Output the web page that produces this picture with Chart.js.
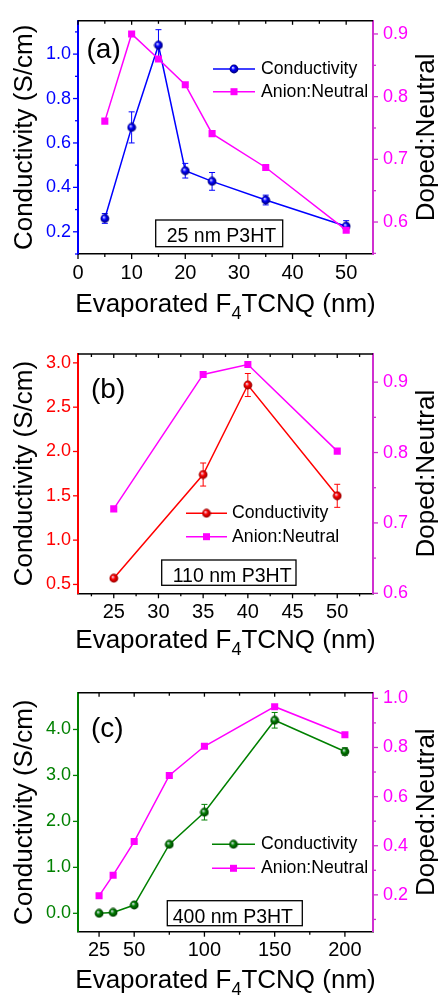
<!DOCTYPE html>
<html>
<head>
<meta charset="utf-8">
<script src="https://cdn.jsdelivr.net/npm/chart.js@4.4.1/dist/chart.umd.min.js"></script>
<style>
  html, body { margin: 0; padding: 0; background: #fff; }
  #wrap { position: relative; width: 438px; height: 995px; }
  canvas { position: absolute; left: 0; }
</style>
</head>
<body>
<div id="wrap">
  <canvas id="chartA" width="438" height="330" style="top:0px"></canvas>
  <canvas id="chartB" width="438" height="330" style="top:330px"></canvas>
  <canvas id="chartC" width="438" height="335" style="top:660px"></canvas>
</div>
<script>
// ---- panel (a): 25 nm P3HT ----
const xA = [5, 10, 15, 20, 25, 35, 50];
const condA = [0.26, 0.67, 1.04, 0.475, 0.427, 0.343, 0.225];
const condErrA = [0.022, 0.07, 0.07, 0.033, 0.04, 0.022, 0.025];
const ratioA = [0.761, 0.90, 0.86, 0.819, 0.741, 0.687, 0.587];
const xTicksA = [0, 10, 20, 30, 40, 50];
const xMinorA = [5, 15, 25, 35, 45, 55];
const yTicksA = [0.2, 0.4, 0.6, 0.8, 1.0];
const yMinorA = [0.1, 0.3, 0.5, 0.7, 0.9, 1.1];
const rTicksA = [0.6, 0.7, 0.8, 0.9];
const rMinorA = [0.55, 0.65, 0.75, 0.85];

// ---- panel (b): 110 nm P3HT ----
const xB = [25, 35, 40, 50];
const condB = [0.57, 1.74, 2.75, 1.50];
const condErrB = [0.02, 0.13, 0.13, 0.13];
const ratioB = [0.72, 0.911, 0.925, 0.802];
const xTicksB = [25, 30, 35, 40, 45, 50];
const xMinorB = [22.5, 27.5, 32.5, 37.5, 42.5, 47.5, 52.5];
const yTicksB = [0.5, 1.0, 1.5, 2.0, 2.5, 3.0];
const yMinorB = [];
const rTicksB = [0.6, 0.7, 0.8, 0.9];
const rMinorB = [0.65, 0.75, 0.85];

// ---- panel (c): 400 nm P3HT ----
const xC = [25, 35, 50, 75, 100, 150, 200];
const condC = [0.0, 0.02, 0.18, 1.5, 2.2, 4.2, 3.52];
const condErrC = [0.03, 0.03, 0.03, 0.05, 0.17, 0.17, 0.08];
const ratioC = [0.196, 0.28, 0.417, 0.686, 0.805, 0.966, 0.852];
const xTicksC = [25, 50, 100, 150, 200];
const xMinorC = [75, 125, 175];
const yTicksC = [0.0, 1.0, 2.0, 3.0, 4.0];
const yMinorC = [];
const rTicksC = [0.2, 0.4, 0.6, 0.8, 1.0];
const rMinorC = [0.1, 0.3, 0.5, 0.7, 0.9];

const FONT = "'Liberation Sans', Arial, sans-serif";
const MAGENTA = "#FF00FF";
const RAXIS = "#D030D0";

function makeBall(color, shade) {
  const c = document.createElement("canvas");
  c.width = 10;
  c.height = 10;
  const g = c.getContext("2d");
  const grad = g.createRadialGradient(3.8, 3.6, 0.2, 5, 5, 4.6);
  grad.addColorStop(0, "#e8e8ff");
  grad.addColorStop(0.4, color);
  grad.addColorStop(1, shade);
  g.fillStyle = grad;
  g.beginPath();
  g.arc(5, 5, 4.4, 0, Math.PI * 2);
  g.fill();
  return c;
}

function drawXTitle(ctx, cx, baseline) {
  const big = "26px " + FONT;
  const small = "18px " + FONT;
  const parts = [["Evaporated F", big, 0], ["4", small, 7], ["TCNQ (nm)", big, 0]];
  let total = 0;
  parts.forEach((p) => {
    ctx.font = p[1];
    total += ctx.measureText(p[0]).width;
  });
  let x = cx - total / 2;
  ctx.textAlign = "left";
  ctx.textBaseline = "alphabetic";
  parts.forEach((p) => {
    ctx.font = p[1];
    ctx.fillText(p[0], x, baseline + p[2]);
    x += ctx.measureText(p[0]).width;
  });
}

const panelDeco = {
  id: "panelDeco",
  beforeDatasetsDraw(chart, args, p) {
    // error bars for conductivity
    const ctx = chart.ctx;
    const sx = chart.scales.x;
    const sy = chart.scales.y;
    ctx.save();
    ctx.strokeStyle = p.color;
    ctx.lineWidth = 1;
    p.xs.forEach((xv, i) => {
      const px = sx.getPixelForValue(xv);
      const t = sy.getPixelForValue(p.ys[i] + p.err[i]);
      const b = sy.getPixelForValue(p.ys[i] - p.err[i]);
      ctx.beginPath();
      ctx.moveTo(px, t);
      ctx.lineTo(px, b);
      ctx.moveTo(px - 3, t);
      ctx.lineTo(px + 3, t);
      ctx.moveTo(px - 3, b);
      ctx.lineTo(px + 3, b);
      ctx.stroke();
    });
    ctx.restore();
  },
  afterDraw(chart, args, p) {
    const ctx = chart.ctx;
    const a = chart.chartArea;
    const sx = chart.scales.x;
    const sy = chart.scales.y;
    const sr = chart.scales.y1;
    ctx.save();

    // top frame line
    ctx.strokeStyle = "#000";
    ctx.lineWidth = 1.5;
    ctx.beginPath();
    ctx.moveTo(a.left, a.top);
    ctx.lineTo(a.right, a.top);
    ctx.stroke();

    // tick marks
    const tick = (scale, vals, len, kind, color) => {
      ctx.strokeStyle = color;
      ctx.lineWidth = 1.3;
      vals.forEach((v) => {
        const q = scale.getPixelForValue(v);
        ctx.beginPath();
        if (kind === "bottom") { ctx.moveTo(q, a.bottom); ctx.lineTo(q, a.bottom + len); }
        if (kind === "top") { ctx.moveTo(q, a.top); ctx.lineTo(q, a.top + len); }
        if (kind === "left") { ctx.moveTo(a.left, q); ctx.lineTo(a.left - len, q); }
        if (kind === "right") { ctx.moveTo(a.right, q); ctx.lineTo(a.right + len, q); }
        ctx.stroke();
      });
    };
    tick(sx, p.xMajor, 5, "bottom", "#000");
    tick(sx, p.xMinor.filter((v) => v < sx.max), 3, "bottom", "#000");
    tick(sx, p.xMajor, 4, "top", "#000");
    tick(sx, p.xMinor.filter((v) => v < sx.max), 3, "top", "#000");
    tick(sy, p.yMajor, 5, "left", p.color);
    tick(sy, p.yMinor, 3, "left", p.color);
    tick(sr, p.rMajor, 5, "right", RAXIS);
    tick(sr, p.rMinor, 3, "right", RAXIS);

    // axis titles
    ctx.fillStyle = "#000";
    drawXTitle(ctx, (a.left + a.right) / 2, a.bottom + p.xTitleGap);
    ctx.font = "26px " + FONT;
    ctx.textAlign = "center";
    ctx.textBaseline = "alphabetic";
    ctx.save();
    ctx.translate(31.5, (a.top + a.bottom) / 2);
    ctx.rotate(-Math.PI / 2);
    ctx.fillText("Conductivity (S/cm)", 0, 0);
    ctx.restore();
    ctx.save();
    ctx.translate(433.5, (a.top + a.bottom) / 2);
    ctx.rotate(-Math.PI / 2);
    ctx.fillText("Doped:Neutral", 0, 0);
    ctx.restore();

    // panel letter
    ctx.font = "28px " + FONT;
    ctx.textAlign = "left";
    ctx.fillText(p.letter, a.left + p.letterPos[0], a.top + p.letterPos[1]);

    // sample box
    const bx = p.box;
    ctx.lineWidth = 1.3;
    ctx.strokeStyle = "#000";
    ctx.strokeRect(bx[0], bx[1], bx[2], bx[3]);
    ctx.font = "19.5px " + FONT;
    ctx.fillText(p.sample, bx[0] + bx[4], bx[1] + bx[5]);

    // legend
    const lg = p.legend;
    const rows = [
      ["Conductivity", p.color, "ball"],
      ["Anion:Neutral", MAGENTA, "rect"],
    ];
    ctx.font = "17.7px " + FONT;
    ctx.textBaseline = "middle";
    rows.forEach((r, i) => {
      const yy = lg.y + i * lg.gap;
      ctx.strokeStyle = r[1];
      ctx.lineWidth = 1.5;
      ctx.beginPath();
      ctx.moveTo(lg.x0, yy);
      ctx.lineTo(lg.x1, yy);
      ctx.stroke();
      const mx = (lg.x0 + lg.x1) / 2;
      if (r[2] === "ball") {
        ctx.drawImage(p.ball, mx - 5, yy - 5);
      } else {
        ctx.fillStyle = MAGENTA;
        ctx.fillRect(mx - 3.5, yy - 3.5, 7, 7);
      }
      ctx.fillStyle = "#000";
      ctx.fillText(r[0], lg.tx, yy);
    });
    ctx.restore();
  },
};

function makePanel(id, s) {
  const ball = makeBall(s.color, s.shade);
  const canvas = document.getElementById(id);
  const H = canvas.height;
  return new Chart(canvas, {
    type: "line",
    data: {
      datasets: [
        {
          label: "Conductivity",
          data: s.xs.map((x, i) => ({ x: x, y: s.cond[i] })),
          yAxisID: "y",
          borderColor: s.color,
          borderWidth: 1.5,
          pointStyle: ball,
          pointRadius: 4.5,
          order: 1,
        },
        {
          label: "Anion:Neutral",
          data: s.xs.map((x, i) => ({ x: x, y: s.ratio[i] })),
          yAxisID: "y1",
          borderColor: MAGENTA,
          backgroundColor: MAGENTA,
          borderWidth: 1.5,
          pointStyle: "rect",
          pointRadius: 5,
          pointBorderWidth: 0,
          order: 0,
        },
      ],
    },
    options: {
      responsive: false,
      animation: false,
      devicePixelRatio: 1,
      layout: { padding: { top: s.top, left: 0, right: 0, bottom: 0 } },
      plugins: {
        legend: { display: false },
        tooltip: { enabled: false },
        panelDeco: {
          xs: s.xs, ys: s.cond, err: s.err, color: s.color, ball: ball,
          xMajor: s.xTicks, xMinor: s.xMinor,
          yMajor: s.yTicks, yMinor: s.yMinor,
          rMajor: s.rTicks, rMinor: s.rMinor,
          letter: s.letter, letterPos: s.letterPos,
          sample: s.sample, box: s.box, legend: s.legend,
          xTitleGap: s.xTitleGap,
        },
      },
      scales: {
        x: {
          type: "linear",
          min: s.xMin,
          max: s.xMax,
          afterBuildTicks: (sc) => { sc.ticks = s.xTicks.map((v) => ({ value: v })); },
          afterFit: (sc) => { sc.height = H - s.bottom; },
          grid: { display: false, drawTicks: false },
          border: { display: true, color: "#000", width: 1.5 },
          ticks: { color: "#000", font: { family: FONT, size: 20 }, padding: 7, maxRotation: 0,
                   callback: (v) => String(v) },
        },
        y: {
          position: "left",
          min: s.yMin,
          max: s.yMax,
          afterBuildTicks: (sc) => { sc.ticks = s.yTicks.map((v) => ({ value: v })); },
          afterFit: (sc) => { sc.width = 78; },
          grid: { display: false, drawTicks: false },
          border: { display: true, color: s.color, width: 2 },
          ticks: { color: s.color, font: { family: FONT, size: 18 }, padding: 7,
                   callback: (v) => v.toFixed(1) },
        },
        y1: {
          position: "right",
          min: s.rMin,
          max: s.rMax,
          afterBuildTicks: (sc) => { sc.ticks = s.rTicks.map((v) => ({ value: v })); },
          afterFit: (sc) => { sc.width = 65; },
          grid: { display: false, drawTicks: false },
          border: { display: true, color: RAXIS, width: 2 },
          ticks: { color: MAGENTA, font: { family: FONT, size: 18 }, padding: 10,
                   callback: (v) => v.toFixed(1) },
        },
      },
    },
    plugins: [panelDeco],
  });
}

makePanel("chartA", {
  xs: xA, cond: condA, err: condErrA, ratio: ratioA,
  color: "#0000FF", shade: "#00006a",
  xMin: 0, xMax: 55, yMin: 0.1, yMax: 1.15, rMin: 0.549, rMax: 0.921,
  xTicks: xTicksA, xMinor: xMinorA, yTicks: yTicksA, yMinor: yMinorA,
  rTicks: rTicksA, rMinor: rMinorA,
  top: 14.7, bottom: 254, xTitleGap: 57.5,
  letter: "(a)", letterPos: [8.5, 37],
  sample: "25 nm P3HT", box: [155.7, 220, 127, 26.7, 11, 21.7],
  legend: { x0: 213, x1: 255, tx: 261, y: 69, gap: 22.7 },
});

makePanel("chartB", {
  xs: xB, cond: condB, err: condErrB, ratio: ratioB,
  color: "#FF0000", shade: "#8a0000",
  xMin: 21, xMax: 54, yMin: 0.4, yMax: 3.1, rMin: 0.6, rMax: 0.94,
  xTicks: xTicksB, xMinor: xMinorB, yTicks: yTicksB, yMinor: yMinorB,
  rTicks: rTicksB, rMinor: rMinorB,
  top: 24, bottom: 263.3, xTitleGap: 55,
  letter: "(b)", letterPos: [13, 44],
  sample: "110 nm P3HT", box: [161.7, 230, 134.3, 25.3, 11, 21.5],
  legend: { x0: 186, x1: 227, tx: 232, y: 183.3, gap: 23.4 },
});

makePanel("chartC", {
  xs: xC, cond: condC, err: condErrC, ratio: ratioC,
  color: "#008000", shade: "#003800",
  xMin: 10, xMax: 220, yMin: -0.4, yMax: 4.8, rMin: 0.05, rMax: 1.023,
  xTicks: xTicksC, xMinor: xMinorC, yTicks: yTicksC, yMinor: yMinorC,
  rTicks: rTicksC, rMinor: rMinorC,
  top: 32.7, bottom: 271.7, xTitleGap: 56.6,
  letter: "(c)", letterPos: [13, 44],
  sample: "400 nm P3HT", box: [167.3, 240.7, 135, 25, 5.4, 22.6],
  legend: { x0: 212, x1: 255, tx: 261, y: 184.3, gap: 24 },
});
</script>
</body>
</html>
